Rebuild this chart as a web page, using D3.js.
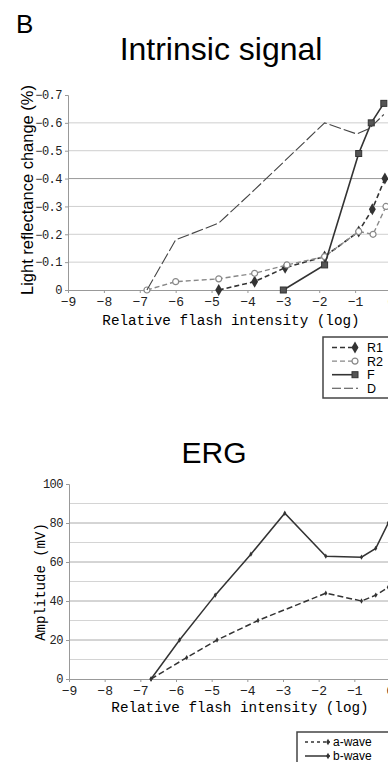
<!DOCTYPE html>
<html>
<head>
<title>Intrinsic signal and ERG</title>
<script src="https://d3js.org/d3.v7.min.js" charset="utf-8"></script>
<style>
body {
    margin: 0;
    background: white;
    font-family: "Liberation Sans", Arial, sans-serif;
}
.tick text {
    font-family: "Liberation Mono", "DejaVu Sans Mono", monospace;
    fill: #222;
}
</style>
</head>
<body>
<script>
// values (log intensity, response)
var intensityTicks = [-9, -8, -7, -6, -5, -4, -3, -2, -1, 0];
var reflTicks = [0, -0.1, -0.2, -0.3, -0.4, -0.5, -0.6, -0.7];
var ampTicks = [0, 20, 40, 60, 80, 100];
var ampGrid = [10, 20, 30, 40, 50, 60, 70, 80, 90];

var r1 = [[-4.8, 0], [-3.8, -0.03], [-2.95, -0.08], [-1.85, -0.12], [-0.9, -0.21], [-0.52, -0.29], [-0.17, -0.4]];
var r2 = [[-6.8, 0], [-6, -0.03], [-4.8, -0.04], [-3.8, -0.06], [-2.9, -0.09], [-1.85, -0.12], [-0.9, -0.21], [-0.5, -0.2], [-0.14, -0.3]];
var f = [[-3, 0], [-1.85, -0.09], [-0.9, -0.49], [-0.55, -0.6], [-0.2, -0.67]];
var dLine = [[-6.8, 0], [-6, -0.18], [-4.8, -0.24], [-3.8, -0.36], [-1.85, -0.6], [-0.95, -0.56], [-0.6, -0.58], [-0.2, -0.63]];

var aWave = [[-6.7, 0], [-5.7, 11], [-4.85, 20], [-3.7, 30], [-1.8, 44], [-0.8, 40], [-0.4, 43], [-0.05, 47]];
var bWave = [[-6.7, 0], [-5.9, 20], [-4.9, 43], [-3.9, 64], [-2.95, 85], [-1.8, 63], [-0.8, 62.5], [-0.4, 67], [-0.05, 80]];

var width = 388;
var height = 762;
var svg = d3.select("body")
  .append("svg")
  .attr("width", width)
  .attr("height", height);

svg.append("text")
  .attr("x", 16).attr("y", 33)
  .style("font-size", "26px")
  .text("B");

////////// top chart: intrinsic signal
var x1 = d3.scaleLinear().domain([-9, 0]).range([68, 391]);
var y1 = d3.scaleLinear().domain([0, -0.7]).range([290, 95]);

svg.append("text")
  .attr("x", 221).attr("y", 60)
  .attr("text-anchor", "middle")
  .style("font-size", "32px")
  .text("Intrinsic signal");

var g1 = svg.append("g");
g1.selectAll("line.grid")
  .data(reflTicks.slice(1, 7))
  .enter().append("line")
  .attr("class", "grid")
  .attr("x1", x1(-9)).attr("x2", width)
  .attr("y1", function(d) { return y1(d); })
  .attr("y2", function(d) { return y1(d); })
  .attr("stroke", function(d) { return d == -0.4 ? "#999" : "#cfcfcf"; })
  .attr("stroke-width", 1);

g1.append("g")
  .attr("transform", "translate(0," + y1(0) + ")")
  .call(d3.axisBottom(x1).tickValues(intensityTicks).tickSize(3).tickPadding(4).tickFormat(d3.format("d")))
  .call(function(a) {
    a.select(".domain").attr("stroke", "#999");
    a.selectAll("line").attr("stroke", "#999");
    a.selectAll("text").style("font-size", "13px");
  });

g1.append("g")
  .attr("transform", "translate(" + x1(-9) + ",0)")
  .call(d3.axisLeft(y1).tickValues(reflTicks).tickSize(3).tickPadding(3)
    .tickFormat(function(d) { return d == 0 ? "0" : d3.format(".1f")(d); }))
  .call(function(a) {
    a.select(".domain").attr("stroke", "#999");
    a.selectAll("line").attr("stroke", "#999");
    a.selectAll("text").style("font-size", "12px").style("letter-spacing", "-0.5px");
  });

svg.append("text")
  .attr("transform", "translate(33,190) rotate(-90)")
  .attr("text-anchor", "middle")
  .style("font-size", "16.5px")
  .text("Light reflectance change (%)");

svg.append("text")
  .attr("x", 231).attr("y", 325)
  .attr("text-anchor", "middle")
  .style("font-family", "'Liberation Mono', monospace")
  .style("font-size", "14.3px")
  .text("Relative flash intensity (log)");

var line1 = d3.line()
  .x(function(d) { return x1(d[0]); })
  .y(function(d) { return y1(d[1]); });

var topSeries = [
  {name: "R1", data: r1, color: "#333", dash: "5,3", width: 1.6, marker: "diamond"},
  {name: "R2", data: r2, color: "#888", dash: "5,3", width: 1.4, marker: "circle"},
  {name: "F", data: f, color: "#333", dash: null, width: 1.6, marker: "square"},
  {name: "D", data: dLine, color: "#444", dash: "12,3", width: 1.1, marker: null}
];

function drawMarker(sel, type, color, size) {
  if (type == "diamond") {
    sel.append("path").attr("d", d3.symbol(d3.symbolDiamond, size * 7)()).attr("fill", color);
  } else if (type == "circle") {
    sel.append("circle").attr("r", size / 2).attr("fill", "white").attr("stroke", color).attr("stroke-width", 1.2);
  } else if (type == "square") {
    sel.append("rect").attr("x", -size / 2).attr("y", -size / 2).attr("width", size).attr("height", size).attr("fill", "#555").attr("stroke", color);
  }
}

topSeries.forEach(function(s) {
  g1.append("path")
    .datum(s.data)
    .attr("fill", "none")
    .attr("stroke", s.color)
    .attr("stroke-width", s.width)
    .attr("stroke-dasharray", s.dash)
    .attr("d", line1);
  if (s.marker) {
    g1.selectAll(null)
      .data(s.data)
      .enter().append("g")
      .attr("transform", function(d) { return "translate(" + x1(d[0]) + "," + y1(d[1]) + ")"; })
      .each(function() { drawMarker(d3.select(this), s.marker, s.color, 6); });
  }
});

// legend
var leg1 = svg.append("g");
leg1.append("rect")
  .attr("x", 323).attr("y", 337).attr("width", 80).attr("height", 61)
  .attr("fill", "white").attr("stroke", "#444").attr("stroke-width", 1.5);
topSeries.forEach(function(s, i) {
  var ly = 347.5 + i * 13.6;
  leg1.append("line")
    .attr("x1", 332).attr("x2", 358).attr("y1", ly).attr("y2", ly)
    .attr("stroke", s.color).attr("stroke-width", s.width)
    .attr("stroke-dasharray", s.name == "D" ? "9,3" : s.dash);
  if (s.marker) {
    drawMarker(leg1.append("g").attr("transform", "translate(355," + ly + ")"), s.marker, s.color, 6);
  }
  leg1.append("text")
    .attr("x", 367).attr("y", ly + 4.5)
    .style("font-size", "12.5px")
    .text(s.name);
});

////////// bottom chart: ERG
var x2 = d3.scaleLinear().domain([-9, 0]).range([69, 390]);
var y2 = d3.scaleLinear().domain([0, 100]).range([679, 484]);

svg.append("text")
  .attr("x", 214).attr("y", 463)
  .attr("text-anchor", "middle")
  .style("font-size", "30px")
  .text("ERG");

var g2 = svg.append("g");
g2.selectAll("line.grid")
  .data(ampGrid)
  .enter().append("line")
  .attr("class", "grid")
  .attr("x1", x2(-9)).attr("x2", width)
  .attr("y1", function(d) { return y2(d); })
  .attr("y2", function(d) { return y2(d); })
  .attr("stroke", function(d) { return d % 20 == 0 ? "#aaa" : "#d4d4d4"; })
  .attr("stroke-width", 1);

g2.append("g")
  .attr("transform", "translate(0," + y2(0) + ")")
  .call(d3.axisBottom(x2).tickValues(intensityTicks).tickSize(3).tickPadding(4).tickFormat(d3.format("d")))
  .call(function(a) {
    a.select(".domain").attr("stroke", "#999");
    a.selectAll("line").attr("stroke", "#999");
    a.selectAll("text").style("font-size", "13px");
  });

g2.append("g")
  .attr("transform", "translate(" + x2(-9) + ",0)")
  .call(d3.axisLeft(y2).tickValues(ampTicks).tickSize(3).tickPadding(3))
  .call(function(a) {
    a.select(".domain").attr("stroke", "#999");
    a.selectAll("line").attr("stroke", "#999");
    a.selectAll("text").style("font-size", "12px").style("letter-spacing", "-0.5px");
  });

svg.append("text")
  .attr("transform", "translate(45,582) rotate(-90)")
  .attr("text-anchor", "middle")
  .style("font-family", "'Liberation Mono', monospace")
  .style("font-size", "14px")
  .text("Amplitude (mV)");

svg.append("text")
  .attr("x", 240).attr("y", 712)
  .attr("text-anchor", "middle")
  .style("font-family", "'Liberation Mono', monospace")
  .style("font-size", "14.3px")
  .text("Relative flash intensity (log)");

var line2 = d3.line()
  .x(function(d) { return x2(d[0]); })
  .y(function(d) { return y2(d[1]); });

var ergSeries = [
  {name: "a-wave", data: aWave, dash: "6,3", width: 1.5},
  {name: "b-wave", data: bWave, dash: null, width: 1.5}
];

ergSeries.forEach(function(s) {
  g2.append("path")
    .datum(s.data)
    .attr("fill", "none")
    .attr("stroke", "#333")
    .attr("stroke-width", s.width)
    .attr("stroke-dasharray", s.dash)
    .attr("d", line2);
  g2.selectAll(null)
    .data(s.data)
    .enter().append("path")
    .attr("transform", function(d) { return "translate(" + x2(d[0]) + "," + y2(d[1]) + ")"; })
    .attr("d", d3.symbol(d3.symbolDiamond, 8)())
    .attr("fill", "#333");
});

var leg2 = svg.append("g");
leg2.append("rect")
  .attr("x", 297).attr("y", 732).attr("width", 100).attr("height", 40)
  .attr("fill", "white").attr("stroke", "#444").attr("stroke-width", 1.5);
ergSeries.forEach(function(s, i) {
  var ly = 742 + i * 14;
  leg2.append("line")
    .attr("x1", 305).attr("x2", 330).attr("y1", ly).attr("y2", ly)
    .attr("stroke", "#333").attr("stroke-width", s.width)
    .attr("stroke-dasharray", s.dash ? "3,3" : null);
  leg2.append("path")
    .attr("transform", "translate(328," + ly + ")")
    .attr("d", d3.symbol(d3.symbolDiamond, 12)())
    .attr("fill", "#333");
  leg2.append("text")
    .attr("x", 333).attr("y", ly + 4)
    .style("font-size", "12px")
    .text(s.name);
});
</script>
</body>
</html>
